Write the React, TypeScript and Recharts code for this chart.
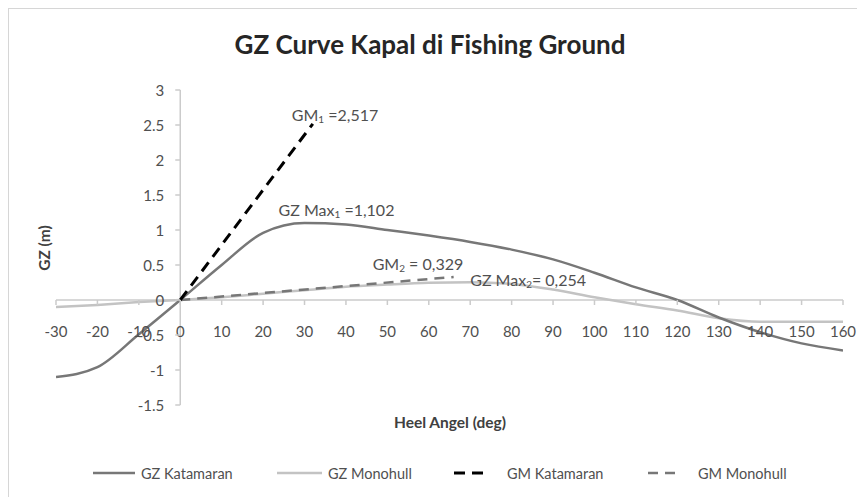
import React from 'react';
import { LineChart, Line, XAxis, YAxis, ReferenceLine, ReferenceDot } from 'recharts';

// ---- data ----
const angles = [-30, -20, -10, 0, 10, 20, 30, 40, 50, 60, 70, 80, 90, 100, 110, 120, 130, 140, 150, 160];
const gzKatamaran = [-1.10, -0.96, -0.49, 0, 0.50, 0.96, 1.10, 1.08, 1.00, 0.92, 0.83, 0.72, 0.58, 0.39, 0.18, 0.0, -0.25, -0.46, -0.62, -0.72];
const gzMonohull = [-0.10, -0.07, -0.03, 0, 0.04, 0.09, 0.14, 0.19, 0.22, 0.245, 0.254, 0.23, 0.15, 0.04, -0.06, -0.15, -0.26, -0.31, -0.31, -0.31];
const gmKatamaranAngles = [0, 32];
const gmKatamaranValues = [0, 2.517];
const gmMonohullAngles = [0, 66];
const gmMonohullValues = [0, 0.329];
const xTicks = [-30, -20, -10, 0, 10, 20, 30, 40, 50, 60, 70, 80, 90, 100, 110, 120, 130, 140, 150, 160];
const yTicks = [-1.5, -1, -0.5, 0, 0.5, 1, 1.5, 2, 2.5, 3];
const seriesNames = ['GZ Katamaran', 'GZ Monohull', 'GM Katamaran', 'GM Monohull'];
const titleText = 'GZ Curve Kapal di Fishing Ground';
const xTitle = 'Heel Angel (deg)';
const yTitle = 'GZ (m)';

const gzData = angles.map((a, i) => ({ angle: a, kat: gzKatamaran[i], mono: gzMonohull[i] }));
const gmKatData = gmKatamaranAngles.map((a, i) => ({ angle: a, gm: gmKatamaranValues[i] }));
const gmMonoData = gmMonohullAngles.map((a, i) => ({ angle: a, gm: gmMonohullValues[i] }));

const FONT = "Lato, 'Open Sans', sans-serif";
const TEXT = '#505050';
const AXIS = '#cbcbcb';
const KAT = '#777777';
const MONO = '#c3c3c3';

const W = 857;
const H = 489;

const fmt = (v: number) => String(v);

const Sub = ({ main, sub, rest, x, y }: any) => (
  <text x={x} y={y} fontFamily={FONT} fontSize={16} fill={TEXT}>
    {main}
    <tspan fontSize={10} dy={2}>{sub}</tspan>
    <tspan dy={-2}>{rest}</tspan>
  </text>
);

export default function App() {
  return (
    <div style={{ position: 'relative', width: W, height: H, overflow: 'hidden', background: '#fff' }}>
      <div style={{ position: 'absolute', left: 0, top: 0, width: W + 10, height: H + 10, border: '1.5px solid #d6d6d6', boxSizing: 'border-box' }} />
      <div style={{ position: 'absolute', left: 0, top: 0 }}>
        <LineChart width={W} height={H} margin={{ top: 82, right: 22, bottom: 92, left: 48 }}>
          <XAxis type="number" dataKey="angle" domain={[-30, 160]} ticks={xTicks} hide height={0} allowDataOverflow />
          <YAxis type="number" domain={[-1.5, 3]} ticks={yTicks} hide width={0} allowDataOverflow />
          <ReferenceLine y={0} stroke={AXIS} strokeWidth={1.5} ifOverflow="visible" />
          <ReferenceLine x={0} stroke={AXIS} strokeWidth={1.5} ifOverflow="visible" />
          {xTicks.map((t) => (
            <ReferenceDot
              key={'xt' + t}
              x={t}
              y={0}
              r={0}
              ifOverflow="visible"
              shape={(p: any) => (
                <g>
                  <line x1={p.cx} y1={p.cy} x2={p.cx} y2={p.cy + 5} stroke={AXIS} strokeWidth={1.5} />
                  <text x={p.cx} y={p.cy + 31} textAnchor="middle" dominantBaseline="central" fontFamily={FONT} fontSize={15} fill={TEXT}>
                    {fmt(t)}
                  </text>
                </g>
              )}
            />
          ))}
          {yTicks.map((t) => (
            <ReferenceDot
              key={'yt' + t}
              x={0}
              y={t}
              r={0}
              ifOverflow="visible"
              shape={(p: any) => (
                <g>
                  <line x1={p.cx - 5} y1={p.cy} x2={p.cx} y2={p.cy} stroke={AXIS} strokeWidth={1.5} />
                  <text x={p.cx - 16} y={p.cy} textAnchor="end" dominantBaseline="central" fontFamily={FONT} fontSize={15} fill={TEXT}>
                    {fmt(t)}
                  </text>
                </g>
              )}
            />
          ))}
          <Line data={gzData} dataKey="mono" type="monotone" stroke={MONO} strokeWidth={2.5} dot={false} isAnimationActive={false} />
          <Line data={gzData} dataKey="kat" type="monotone" stroke={KAT} strokeWidth={2.5} dot={false} isAnimationActive={false} />
          <Line data={gmMonoData} dataKey="gm" type="linear" stroke={KAT} strokeWidth={2.5} strokeDasharray="10 7" dot={false} isAnimationActive={false} />
          <Line data={gmKatData} dataKey="gm" type="linear" stroke="#000" strokeWidth={3} strokeDasharray="11 7" dot={false} isAnimationActive={false} />
          <ReferenceDot x={gmKatamaranAngles[1]} y={gmKatamaranValues[1]} r={0} ifOverflow="visible"
            shape={(p: any) => <Sub x={p.cx - 21} y={p.cy - 3} main="GM" sub="1" rest=" =2,517" />} />
          <ReferenceDot x={30} y={1.102} r={0} ifOverflow="visible"
            shape={(p: any) => <Sub x={p.cx - 26} y={p.cy - 7} main="GZ Max" sub="1" rest=" =1,102" />} />
          <ReferenceDot x={gmMonohullAngles[1]} y={gmMonohullValues[1]} r={0} ifOverflow="visible"
            shape={(p: any) => <Sub x={p.cx - 81} y={p.cy - 7} main="GM" sub="2" rest=" = 0,329" />} />
          <ReferenceDot x={70} y={0.254} r={0} ifOverflow="visible"
            shape={(p: any) => <Sub x={p.cx} y={p.cy + 4} main="GZ Max" sub="2" rest="= 0,254" />} />
        </LineChart>
      </div>
      <div style={{ position: 'absolute', left: 122, top: 21, width: 600, textAlign: 'center', fontFamily: FONT, fontWeight: 700, fontSize: 26, lineHeight: '31px', color: '#262626', whiteSpace: 'nowrap' }}>
        {titleText}
      </div>
      <div style={{ position: 'absolute', left: 36, top: 240, transform: 'translate(-50%, -50%) rotate(-90deg)', fontFamily: FONT, fontWeight: 700, fontSize: 15.5, color: '#404040', whiteSpace: 'nowrap' }}>
        {yTitle}
      </div>
      <div style={{ position: 'absolute', left: 442, top: 414, transform: 'translate(-50%, -50%)', fontFamily: FONT, fontWeight: 700, fontSize: 15.5, color: '#404040', whiteSpace: 'nowrap' }}>
        {xTitle}
      </div>
      <svg style={{ position: 'absolute', left: 0, top: 0 }} width={W} height={H} pointerEvents="none">
        <g>
          <line x1={85} y1={465} x2={127} y2={465} stroke={KAT} strokeWidth={2.5} />
          <text x={133} y={465} dominantBaseline="central" fontFamily={FONT} fontSize={14.5} fill={TEXT}>{seriesNames[0]}</text>
          <line x1={269} y1={465} x2={314} y2={465} stroke={MONO} strokeWidth={2.5} />
          <text x={320} y={465} dominantBaseline="central" fontFamily={FONT} fontSize={14.5} fill={TEXT}>{seriesNames[1]}</text>
          <line x1={446} y1={465} x2={482} y2={465} stroke="#000" strokeWidth={3} strokeDasharray="11 7" />
          <text x={499} y={465} dominantBaseline="central" fontFamily={FONT} fontSize={14.5} fill={TEXT}>{seriesNames[2]}</text>
          <line x1={640} y1={465} x2={672} y2={465} stroke={KAT} strokeWidth={2.5} strokeDasharray="10 7" />
          <text x={690} y={465} dominantBaseline="central" fontFamily={FONT} fontSize={14.5} fill={TEXT}>{seriesNames[3]}</text>
        </g>
      </svg>
    </div>
  );
}
